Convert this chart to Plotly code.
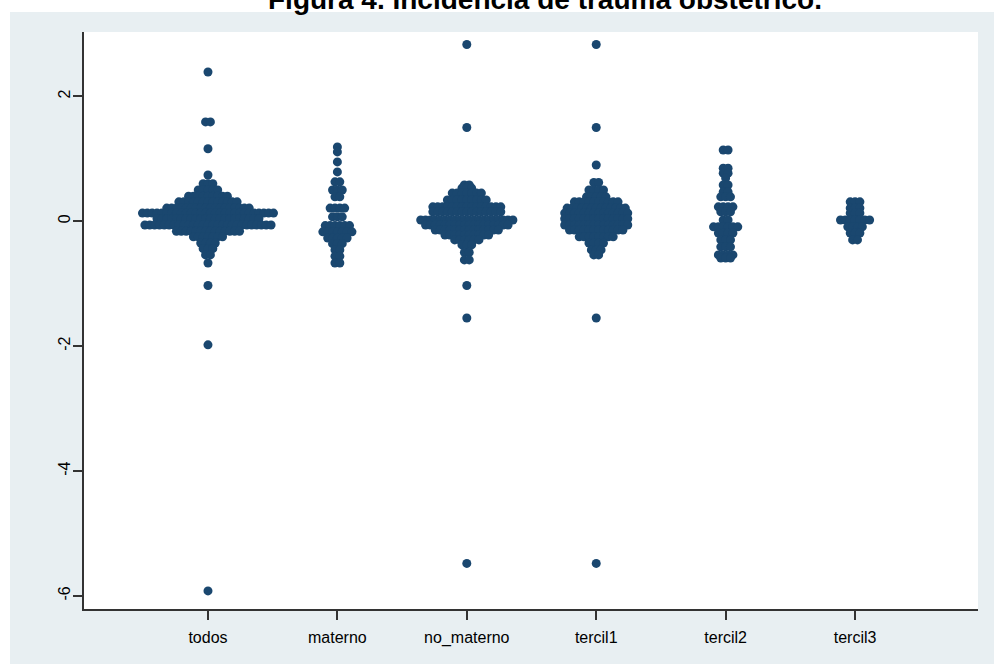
import plotly.graph_objects as go

# Group labels along the x axis
categories = ["todos", "materno", "no_materno", "tercil1", "tercil2", "tercil3"]

# Dot-plot rows per group: bin value (y) and number of observations in that bin
todos_y = [2.39, 1.59, 1.16, 0.74, 0.60, 0.50, 0.40, 0.31, 0.21, 0.13, 0.04, -0.06,
           -0.16, -0.25, -0.35, -0.44, -0.54, -0.67, -1.03, -1.98, -5.92]
todos_n = [1, 2, 1, 1, 3, 5, 9, 13, 18, 28, 22, 27, 14, 7, 4, 3, 2, 1, 1, 1, 1]

materno_y = [1.19, 1.11, 0.95, 0.79, 0.63, 0.50, 0.39, 0.21, 0.07, -0.07, -0.17,
             -0.27, -0.36, -0.46, -0.56, -0.67]
materno_n = [1, 1, 1, 1, 2, 3, 2, 4, 3, 6, 7, 5, 3, 2, 2, 2]

no_materno_y = [2.83, 1.50, 0.58, 0.53, 0.45, 0.34, 0.23, 0.15, 0.02, -0.06, -0.14,
                -0.22, -0.30, -0.38, -0.50, -0.62, -1.03, -1.55, -5.48]
no_materno_n = [1, 1, 2, 3, 7, 9, 15, 15, 20, 18, 14, 10, 6, 3, 2, 2, 1, 1, 1]

tercil1_y = [2.83, 1.50, 0.90, 0.62, 0.50, 0.39, 0.31, 0.21, 0.13, 0.04, -0.06,
             -0.14, -0.25, -0.35, -0.46, -0.54, -1.55, -5.48]
tercil1_n = [1, 1, 1, 2, 4, 5, 10, 13, 14, 14, 14, 12, 8, 4, 3, 2, 1, 1]

tercil2_y = [1.14, 0.85, 0.77, 0.69, 0.58, 0.47, 0.39, 0.23, 0.15, 0.02, -0.09,
             -0.19, -0.30, -0.41, -0.54, -0.59]
tercil2_n = [2, 2, 2, 1, 2, 2, 3, 4, 3, 2, 6, 4, 3, 3, 4, 3]

tercil3_y = [0.31, 0.21, 0.13, 0.02, -0.09, -0.19, -0.30]
tercil3_n = [3, 3, 3, 7, 4, 3, 2]

groups = [
    (todos_y, todos_n),
    (materno_y, materno_n),
    (no_materno_y, no_materno_n),
    (tercil1_y, tercil1_n),
    (tercil2_y, tercil2_n),
    (tercil3_y, tercil3_n),
]

NAVY = "rgb(26,71,111)"
BG = "#E8EFF2"
DX = 0.0375  # horizontal spacing between dots within a row (x units)

W, H = 994, 664
ML, MR, MT, MB = 84, 16, 32, 55
PW, PH = W - ML - MR, H - MT - MB


def px_x(p):
    return (p - ML) / PW


def px_y(p):
    return (H - MB - p) / PH


fig = go.Figure()
for gi, (ys, ns) in enumerate(groups):
    xs, yy = [], []
    for v, n in zip(ys, ns):
        for i in range(n):
            xs.append(gi + 1 + (i - (n - 1) / 2) * DX)
            yy.append(v)
    fig.add_trace(go.Scatter(
        x=xs, y=yy, mode="markers",
        marker=dict(symbol="circle", size=9, color=NAVY, line=dict(width=0)),
        showlegend=False, hoverinfo="skip", cliponaxis=False,
    ))

axis_col = "#333333"
fig.update_layout(
    width=W, height=H,
    margin=dict(l=ML, r=MR, t=MT, b=MB),
    paper_bgcolor=BG,
    plot_bgcolor="white",
    font=dict(family="Liberation Sans, Arial, sans-serif", color="black", size=16),
    xaxis=dict(
        range=[0.042, 6.95],
        tickmode="array",
        tickvals=list(range(1, len(categories) + 1)),
        ticktext=categories,
        showgrid=False, zeroline=False,
        showline=True, linecolor=axis_col, linewidth=1.5,
        ticks="outside", ticklen=9, tickwidth=1.5, tickcolor=axis_col,
        tickfont=dict(size=16), ticklabelstandoff=4,
    ),
    yaxis=dict(
        range=[-6.21, 3.03],
        tickmode="array",
        tickvals=[-6, -4, -2, 0, 2],
        ticktext=["-6", "-4", "-2", "0", "2"],
        tickangle=-90,
        showgrid=False, zeroline=False,
        showline=True, linecolor=axis_col, linewidth=1.5,
        ticks="outside", ticklen=9, tickwidth=1.5, tickcolor=axis_col,
        tickfont=dict(size=16), ticklabelstandoff=-3,
    ),
    shapes=[
        # white page strip along the top and the left edge
        dict(type="rect", xref="paper", yref="paper",
             x0=px_x(0), x1=px_x(W), y0=px_y(12), y1=px_y(0),
             fillcolor="white", line=dict(width=0), layer="below"),
        dict(type="rect", xref="paper", yref="paper",
             x0=px_x(0), x1=px_x(10), y0=px_y(H), y1=px_y(0),
             fillcolor="white", line=dict(width=0), layer="below"),
    ],
    annotations=[
        dict(text="<b>Figura 4. Incidencia de trauma obstétrico.</b>",
             xref="paper", yref="paper", x=px_x(545), y=px_y(-1),
             xanchor="center", yanchor="middle", showarrow=False,
             font=dict(size=28, color="black",
                       family="Liberation Sans, Arial, sans-serif")),
    ],
)

fig.write_html("out.html")
